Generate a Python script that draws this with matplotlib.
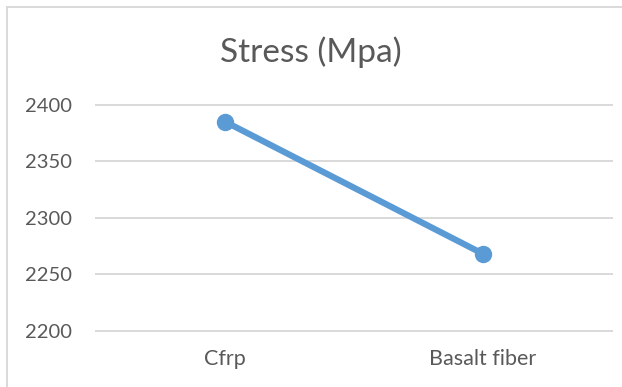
import matplotlib
matplotlib.use("Agg")
import matplotlib.pyplot as plt
from matplotlib.lines import Line2D

# ---------- Date ----------
categories = ["Cfrp", "Basalt fiber"]
stress = [2385, 2268]
y_ticks = [2200, 2250, 2300, 2350, 2400]

# ---------- Stil ----------
LINE_COLOR = "#5B9BD5"
TEXT_COLOR = "#595959"
GRID_COLOR = "#D9D9D9"
plt.rcParams["font.family"] = ["Lato", "DejaVu Sans"]

fig = plt.figure(figsize=(6.22, 3.87), dpi=100)
ax = fig.add_axes([0.1543, 0.1455, 0.8297, 0.584])

x = list(range(len(categories)))
ax.plot(x, stress, color=LINE_COLOR, linewidth=4.5, marker="o",
        markersize=11.5, solid_capstyle="round", zorder=3)

ax.set_xlim(-0.5, len(categories) - 0.5)
ax.set_ylim(y_ticks[0], y_ticks[-1])
ax.set_yticks(y_ticks)
ax.set_xticks(x)
ax.set_xticklabels(categories)

ax.grid(axis="y", color=GRID_COLOR, linewidth=1.4)
ax.set_axisbelow(True)
for s in ax.spines.values():
    s.set_visible(False)
ax.tick_params(axis="y", length=0, labelsize=14.5, colors=TEXT_COLOR, pad=17)
ax.tick_params(axis="x", length=0, labelsize=15.5, colors=TEXT_COLOR, pad=13)
for gl in ax.get_ygridlines():
    gl.set_clip_on(False)

# titlu
fig.text(0.5, 1 - 52 / 387, "Stress (Mpa)", ha="center", va="center",
         fontsize=24, color=TEXT_COLOR)

# chenarul graficului (stânga + sus)
fig.add_artist(Line2D([6.5 / 622, 6.5 / 622], [0, 1 - 6.5 / 387],
                      transform=fig.transFigure, color=GRID_COLOR, linewidth=1.4))
fig.add_artist(Line2D([6.5 / 622, 1], [1 - 6.5 / 387, 1 - 6.5 / 387],
                      transform=fig.transFigure, color=GRID_COLOR, linewidth=1.4))

fig.savefig("out.png", dpi=100)
